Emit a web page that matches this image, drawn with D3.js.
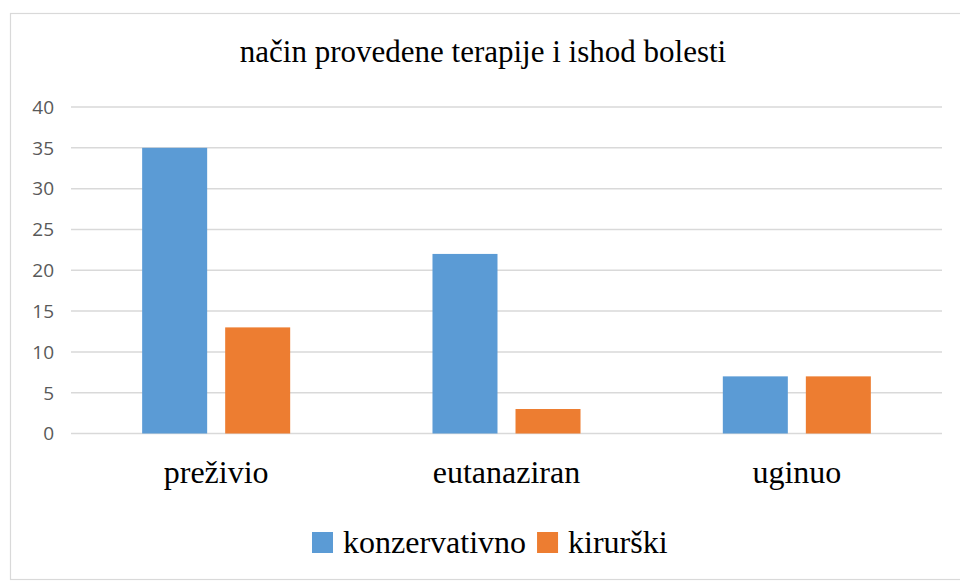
<!DOCTYPE html>
<html>
<head>
<meta charset="utf-8">
<script src="https://cdn.jsdelivr.net/npm/d3@7"></script>
</head>
<body style="margin:0">
<svg id="chart" width="960" height="581"></svg>
<script>
// chart data
const categories = ['preživio', 'eutanaziran', 'uginuo'];
const seriesNames = ['konzervativno', 'kirurški'];
const konzervativno = [35, 22, 7];
const kirurski = [13, 3, 7];
const yTicks = [0, 5, 10, 15, 20, 25, 30, 35, 40];

const colors = ['#5B9BD5', '#ED7D31'];
const serif = "'Liberation Serif', 'Times New Roman', serif";
const sans = "'Open Sans', 'Liberation Sans', sans-serif";

const svg = d3.select('#chart');
const margin = { top: 107, right: 18, bottom: 148, left: 71 };
const width = 960, height = 581;

// outer frame
svg.append('rect')
    .attr('x', 10.5).attr('y', 13.5)
    .attr('width', 960).attr('height', 566)
    .attr('fill', 'none')
    .attr('stroke', '#D9D9D9')
    .attr('stroke-width', 1.2);

const x = d3.scaleBand()
    .domain(categories)
    .range([margin.left, width - margin.right]);

const xInner = d3.scaleBand()
    .domain(seriesNames)
    .range([0, x.bandwidth()])
    .paddingInner(0.217)
    .paddingOuter(0.857);

const y = d3.scaleLinear()
    .domain([0, 40])
    .range([height - margin.bottom + 0.5, margin.top]);

// gridlines
svg.append('g')
    .selectAll('line')
    .data(yTicks)
    .join('line')
    .attr('x1', margin.left)
    .attr('x2', width - margin.right)
    .attr('y1', d => y(d))
    .attr('y2', d => y(d))
    .attr('stroke', '#D9D9D9')
    .attr('stroke-width', 1.5);

// y tick labels
svg.append('g')
    .selectAll('text')
    .data(yTicks)
    .join('text')
    .attr('x', 54)
    .attr('y', d => y(d))
    .attr('dy', '0.36em')
    .attr('text-anchor', 'end')
    .attr('fill', '#595959')
    .style('font-family', sans)
    .style('font-size', '19px')
    .text(d => d);

// bars
const series = [konzervativno, kirurski];
series.forEach((vals, si) => {
    svg.append('g')
        .selectAll('rect')
        .data(categories)
        .join('rect')
        .attr('x', (c) => x(c) + xInner(seriesNames[si]))
        .attr('width', xInner.bandwidth())
        .attr('y', (c, i) => y(vals[i]))
        .attr('height', (c, i) => y(0) - y(vals[i]))
        .attr('fill', colors[si]);
});

// category labels
svg.append('g')
    .selectAll('text')
    .data(categories)
    .join('text')
    .attr('x', d => x(d) + x.bandwidth() / 2)
    .attr('y', 483)
    .attr('text-anchor', 'middle')
    .attr('fill', '#000')
    .style('font-family', serif)
    .style('font-size', '32px')
    .text(d => d);

// title
svg.append('text')
    .attr('x', 483)
    .attr('y', 62)
    .attr('text-anchor', 'middle')
    .attr('fill', '#000')
    .style('font-family', serif)
    .style('font-size', '31px')
    .text('način provedene terapije i ishod bolesti');

// legend
const legend = svg.append('g');
let lx = 312;
seriesNames.forEach((name, i) => {
    legend.append('rect')
        .attr('x', lx).attr('y', 532)
        .attr('width', 21).attr('height', 21)
        .attr('fill', colors[i]);
    const t = legend.append('text')
        .attr('x', lx + 31)
        .attr('y', 553)
        .attr('fill', '#000')
        .style('font-family', serif)
        .style('font-size', '32px')
        .text(name);
    lx += 31 + t.node().getComputedTextLength() + 11;
});
</script>
</body>
</html>
